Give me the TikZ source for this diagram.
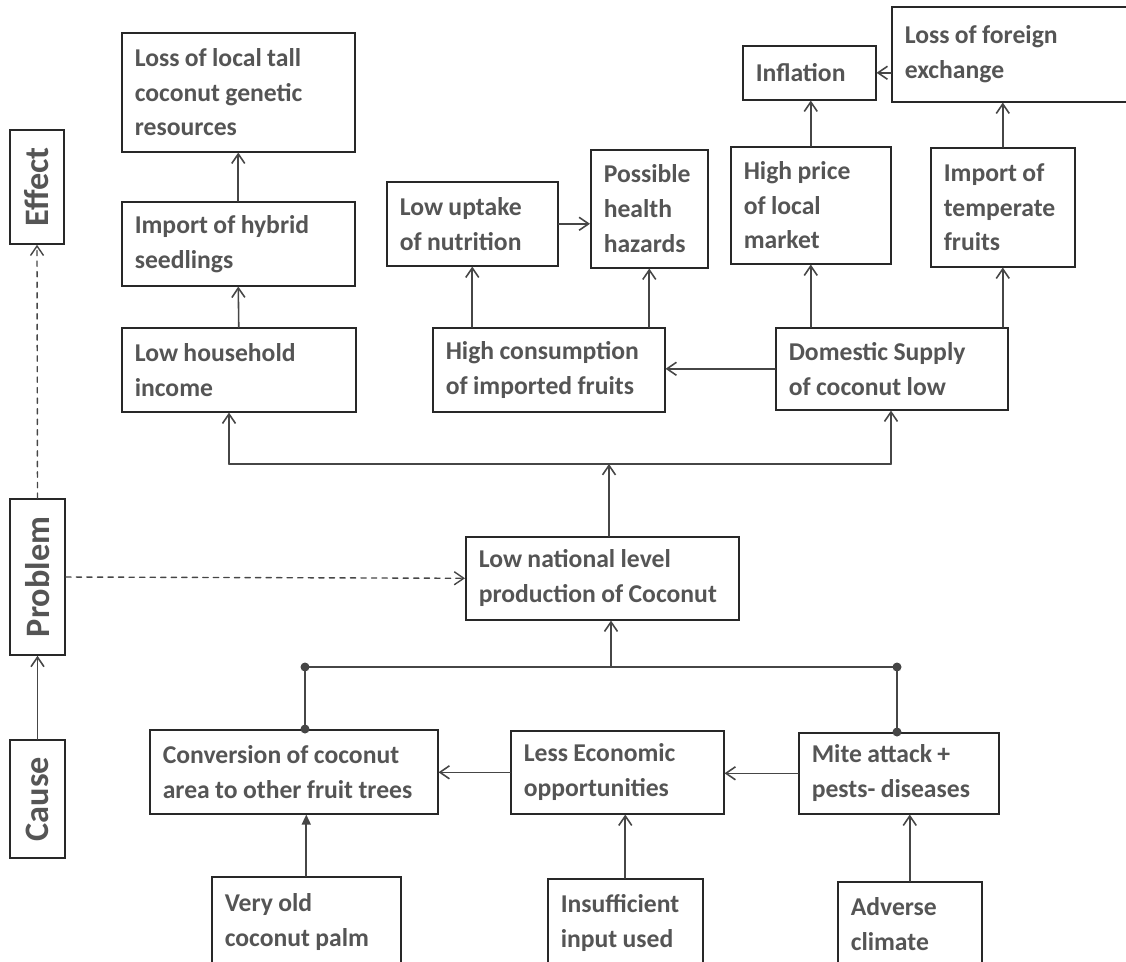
\documentclass[tikz,border=0pt]{standalone}
\usepackage{fontspec}
\setmainfont{Carlito}
\usetikzlibrary{arrows.meta}
\definecolor{txtG}{RGB}{85,85,85}
\definecolor{lineG}{RGB}{70,70,70}
\definecolor{boxG}{RGB}{40,40,40}
\newcommand\tightsp{\spaceskip=0.21em plus 0.05em\relax}

\begin{document}
\begin{tikzpicture}[x=0.02cm, y=-0.02cm, >={Straight Barb[length=1.9mm,width=2.6mm]}, line cap=round,
  box/.style={draw=boxG, line width=0.9pt, anchor=north west, align=left, inner xsep=0.26cm, inner ysep=0pt,
    text=txtG, font=\fontsize{14.6}{19.8}\selectfont\bfseries, execute at begin node=\tightsp},
  side/.style={draw=boxG, line width=0.9pt, rotate=90, inner sep=0pt, text=txtG,
    font=\fontsize{19.5}{22}\selectfont\bfseries},
  link/.style={->, draw=lineG, line width=0.9pt},
  hint/.style={->, draw=lineG, line width=0.8pt, dashed},
  wire/.style={draw=lineG, line width=0.9pt},
  bus/.style={draw=lineG, line width=1.4pt}]
\useasboundingbox (0,0) rectangle (1126,961);
% 左侧层级
\node[side, minimum width=2.28cm, minimum height=1.08cm] (effect) at (37,187) {Effect};
\node[side, minimum width=3.12cm, minimum height=1.10cm] (problem) at (37.5,577) {Problem};
\node[side, minimum width=2.36cm, minimum height=1.10cm] (cause) at (37.5,799) {Cause};
% 结果
\node[box, text width=4.14cm, minimum height=2.38cm] (loss) at (121,32) {Loss of local tall\\coconut genetic\\resources};
\node[box, text width=4.14cm, minimum height=1.68cm] (hybrid) at (121,201) {Import of hybrid\\seedlings};
\node[box, text width=4.16cm, minimum height=1.68cm] (income) at (121,327) {Low household\\income};
\node[box, text width=2.90cm, minimum height=1.68cm] (uptake) at (386,181) {Low uptake\\of nutrition};
\node[box, text width=1.82cm, minimum height=2.36cm] (hazard) at (590,149) {Possible\\health\\hazards};
\node[box, text width=4.12cm, minimum height=1.68cm] (consump) at (432,327) {High consumption\\of imported fruits};
\node[box, text width=2.14cm, minimum height=1.08cm] (inflation) at (742,45) {Inflation};
\node[box, text width=4.40cm, minimum height=1.90cm] (forex) at (891,6) {Loss of foreign\\exchange};
\node[box, text width=2.68cm, minimum height=2.34cm] (price) at (730,146) {High price\\of local\\market};
\node[box, text width=2.36cm, minimum height=2.38cm] (temperate) at (930,147) {Import of\\temperate\\fruits};
\node[box, text width=4.12cm, minimum height=1.64cm] (supply) at (775,327) {Domestic Supply\\of coconut low};
% 问题
\node[box, text width=4.94cm, minimum height=1.66cm] (national) at (465,536) {Low national level\\production of Coconut};
% 原因
\node[box, text width=5.24cm, minimum height=1.68cm] (conversion) at (149,729) {Conversion of coconut\\area to other fruit trees};
\node[box, text width=3.74cm, minimum height=1.66cm] (lesseco) at (510,730) {Less Economic\\opportunities};
\node[box, text width=3.48cm, minimum height=1.62cm] (mite) at (798,732) {Mite attack +\\pests- diseases};
\node[box, text width=3.26cm, minimum height=1.80cm] (oldpalm) at (211,876) {Very old\\coconut palm};
\node[box, text width=2.58cm, minimum height=1.76cm] (insuff) at (547,878) {Insufficient\\input used};
\node[box, text width=2.36cm, minimum height=1.70cm] (adverse) at (837,881) {Adverse\\climate};
% 上层箭头
\draw[link] (hybrid.north) -- (loss.south);
\draw[link] (income.north) -- (hybrid.south);
\draw[link] (uptake.east) -- (uptake.east -| hazard.west);
\draw[link] (uptake.south |- consump.north) -- (uptake.south);
\draw[link] (hazard.south |- consump.north) -- (hazard.south);
\draw[link] (supply.west) -- (supply.west -| consump.east);
\draw[link] (price.south |- supply.north) -- (price.south);
\draw[link] (temperate.south |- supply.north) -- (temperate.south);
\draw[link] (price.north) -- (price.north |- inflation.south);
\draw[link] (temperate.north) -- (temperate.north |- forex.south);
\draw[link] (inflation.east -| forex.west) -- (inflation.east);
% 中间总线
\coordinate (busL) at (229,464);
\coordinate (busR) at (891,464);
\coordinate (busM) at (609,464);
\draw[wire] (busL) -- (busR);
\draw[link] (busL) -- (busL |- income.south);
\draw[link] (busR) -- (busR |- supply.south);
\draw[link] (busM |- national.north) -- (busM);
% 原因总线（圆点）
\coordinate (lowL) at (305,667);
\coordinate (lowR) at (897,667);
\coordinate (lowM) at (611,667);
\coordinate (dotL) at (lowL |- conversion.north);
\coordinate (dotR) at (lowR |- mite.north);
\draw[bus] (dotL) -- (lowL) -- (lowR) -- (dotR);
\foreach \p in {lowL, lowR, dotL, dotR}
  \fill[lineG] (\p) circle (0.09cm);
\draw[link] (lowM) -- (lowM |- national.south);
\draw[link] (mite.west) -- (mite.west -| lesseco.east);
\draw[link] (lesseco.west) -- (lesseco.west -| conversion.east);
\draw[link, -{Triangle[length=2mm,width=1.8mm]}] (oldpalm.north) -- (oldpalm.north |- conversion.south);
\draw[link] (insuff.north) -- (insuff.north |- lesseco.south);
\draw[link] (adverse.north) -- (adverse.north |- mite.south);
% 层级之间
\draw[link] (cause.east) -- (problem.west);
\draw[hint] (problem.east) -- (effect.west);
\draw[hint] (problem.south) -- (national.west);
\end{tikzpicture}
\end{document}
